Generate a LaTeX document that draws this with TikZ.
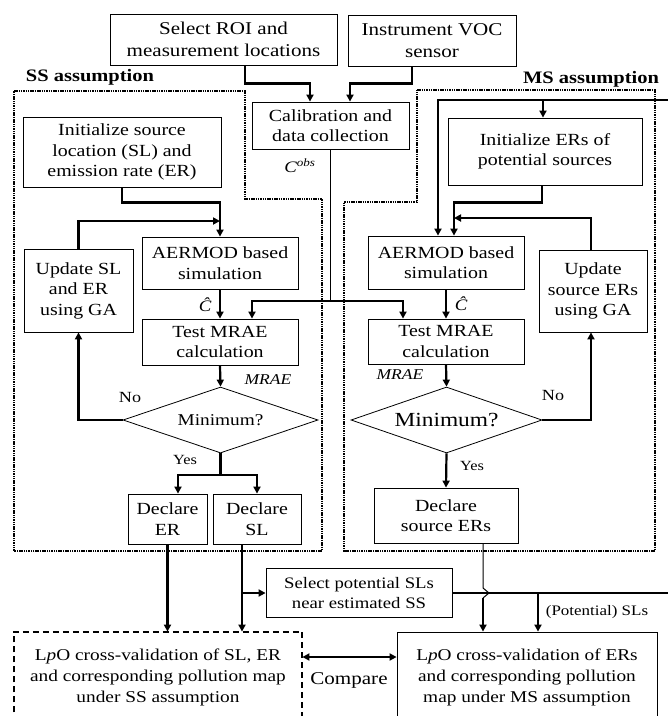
\documentclass[tikz,border=0pt]{standalone}
\usepackage{fontspec}
\setmainfont{Liberation Serif}[FakeStretch=1.17]
\usetikzlibrary{shapes.geometric,arrows.meta,calc}
\begin{document}
\begin{tikzpicture}[x=1pt,y=-1pt,
  box/.style={draw,line width=0.8pt,align=center,inner sep=0pt,font=\fontsize{17}{20.5}\selectfont},
  dia/.style={draw,diamond,aspect=3,line width=0.8pt,inner sep=0pt},
  wh/.style 2 args={minimum width=#1pt,minimum height=#2pt},
  conn/.style={line width=2.2pt,-{Triangle[length=7pt,width=7pt]}},
  line/.style={line width=2.2pt},
  thinline/.style={line width=1pt},
  region/.style={line width=1.3pt,dash pattern=on 1.5pt off 0.8pt},
  lbl/.style={inner sep=0pt},
  mlbl/.style={inner sep=0pt,font=\fontsize{16}{18}\selectfont\itshape},
]
\useasboundingbox (0,0) rectangle (668,716);
\clip (0,0) rectangle (668,716);

% regions
\draw[region] (14,91) -- (245,91) -- (245,199) -- (322,199) -- (322,551) -- (14,551) -- cycle;
\draw[region] (417,90) -- (655,90) -- (655,551) -- (344,551) -- (344,202) -- (417,202) -- cycle;
\node[lbl,font=\fontsize{17.5}{20}\selectfont\bfseries] (ssl) at (90,77) {SS assumption};
\node[lbl,font=\fontsize{17.5}{20}\selectfont\bfseries] (msl) at (591,79) {MS assumption};

% top
\node[box,wh={227}{51},font=\fontsize{18}{22}\selectfont] (roi) at (223.5,39.5) {Select ROI and\\measurement locations};
\node[box,wh={168}{51},font=\fontsize{18}{22}\selectfont] (voc) at (432,40.5) {Instrument VOC\\sensor};
\node[box,wh={157}{47}] (calib) at (330.5,125.5) {Calibration and\\data collection};

% SS
\node[box,wh={198}{70}] (initSL) at (122,152) {Initialize source\\location (SL) and\\emission rate (ER)};
\node[box,wh={156}{52}] (aerSS) at (220,263) {AERMOD based\\simulation};
\node[box,wh={109}{83}] (updSL) at (78.5,290.5) {Update SL\\and ER\\using GA};
\node[box,wh={156}{46}] (testSS) at (220,342) {Test MRAE\\calculation};
\node[dia,wh={195}{66},font=\fontsize{16.5}{20}\selectfont] (diaSS) at (220.5,420) {Minimum?};
\node[box,wh={79}{50}] (declER) at (167.5,519) {Declare\\ER};
\node[box,wh={88}{50}] (declSL) at (257,519) {Declare\\SL};
\node[box,wh={186}{49},font=\fontsize{16}{20}\selectfont] (select) at (359,593) {Select potential SLs\\near estimated SS};
\node[box,wh={288}{90},draw=none,font=\fontsize{16.5}{21}\selectfont] (lpoSS) at (158,677) {L\textit{p}O cross-validation of SL, ER\\and corresponding pollution map\\under SS assumption};
\draw[line width=2pt,dash pattern=on 6pt off 4pt] (lpoSS.south west) -- (lpoSS.north west) -- (lpoSS.north east) -- (lpoSS.south east);

% MS
\node[box,wh={194}{67}] (initER) at (545,151.5) {Initialize ERs of\\potential sources};
\node[box,wh={156}{53}] (aerMS) at (446,262.5) {AERMOD based\\simulation};
\node[box,wh={108}{82}] (updER) at (593,291) {Update\\source ERs\\using GA};
\node[box,wh={156}{45}] (testMS) at (446,341.5) {Test MRAE\\calculation};
\node[dia,wh={191}{66},font=\fontsize{20}{24}\selectfont] (diaMS) at (446.5,420) {Minimum?};
\node[box,wh={144}{55}] (declMS) at (446,515.5) {Declare\\source ERs};
\node[box,wh={260}{90},font=\fontsize{16.5}{21}\selectfont] (lpoMS) at (527,677) {L\textit{p}O cross-validation of ERs\\and corresponding pollution\\map under MS assumption};

% top connectors
\draw[conn] ([xshift=21.5pt]roi.south) -- ++(0,18) -| ([xshift=-20.5pt]calib.north);
\draw[conn] ([xshift=-20pt]voc.south) -- ++(0,17) -| ([xshift=19.5pt]calib.north);
\coordinate (cj) at (330,301);
\draw[thinline] ([xshift=-0.5pt]calib.south) -- (cj);
\draw[conn] (cj) -| ([xshift=32pt]testSS.north);
\draw[conn] (cj) -| ([xshift=-43pt]testMS.north);
\node[mlbl] (cobs) at (300,166) {C\textsuperscript{obs}};

% SS connectors
\draw[conn] (initSL.south) -- ++(0,15) -| (aerSS.north);
\draw[conn] (updSL.north) |- (220,221);
\draw[conn] (aerSS.south) -- (testSS.north);
\node[mlbl] (chat1) at (205,305) {Ĉ};
\draw[conn] (testSS.south) -- (diaSS.north);
\node[mlbl,font=\fontsize{15}{18}\selectfont\itshape] (mrae1) at (268,380) {MRAE};
\draw[conn] (diaSS.west) -| (updSL.south);
\node[lbl,font=\fontsize{15.5}{18}\selectfont] (no1) at (130,397) {No};
\coordinate (yj) at (220.5,475);
\draw[line] (diaSS.south) -- (yj);
\draw[conn] (yj) -| ([xshift=10.5pt]declER.north);
\draw[conn] (yj) -| (declSL.north);
\node[lbl,font=\fontsize{14}{18}\selectfont] (yes1) at (185,460) {Yes};
\draw[conn] (declER.south) -- (declER.south |- lpoSS.north);
\coordinate (sl1) at ([xshift=-15pt]declSL.south);
\draw[conn] (sl1) -- (sl1 |- lpoSS.north);
\draw[conn] (sl1 |- select.west) -- (select.west);

% MS connectors
\coordinate (re) at (668,100);
\draw[conn] (re) -| ([xshift=-8pt]aerMS.north);
\draw[conn] ([xshift=-2pt]initER.north |- re) -- ([xshift=-2pt]initER.north);
\draw[conn] ([xshift=-3pt]initER.south) -- ++(0,17) -| ([xshift=8pt]aerMS.north);
\draw[conn] ([xshift=-2pt]updER.north) |- (454,218);
\draw[conn] (aerMS.south) -- (testMS.north);
\node[mlbl] (chat2) at (461,304) {Ĉ};
\draw[conn] (testMS.south) -- (diaMS.north);
\node[mlbl,font=\fontsize{15}{18}\selectfont\itshape] (mrae2) at (400,375) {MRAE};
\draw[conn] (diaMS.east) -| ([xshift=-2pt]updER.south);
\node[lbl,font=\fontsize{15.5}{18}\selectfont] (no2) at (553,395) {No};
\draw[conn] (diaMS.south) -- (declMS.north);
\node[lbl,font=\fontsize{14}{18}\selectfont] (yes2) at (472,466) {Yes};

% bottom connectors
\coordinate (dm) at ([xshift=37pt]declMS.south);
\coordinate (j1) at (dm |- select.east);
\draw[thinline] (dm) -- ($(j1)+(0,-5)$) -- ($(j1)+(6,0)$) -- ($(j1)+(0,5)$);
\draw[conn] ($(j1)+(0,5)$) -- (dm |- lpoMS.north);
\coordinate (rb) at (668,593);
\draw[line] (select.east) -- (rb);
\coordinate (pb) at (538,593);
\draw[conn] (pb) -- (pb |- lpoMS.north);
\node[lbl,font=\fontsize{14.5}{18}\selectfont] (pot) at (597,612) {(Potential) SLs};
\coordinate (cmp) at (0,657);
\draw[line width=2.2pt,{Triangle[length=7pt,width=7pt]}-{Triangle[length=7pt,width=7pt]}] (lpoSS.east |- cmp) -- (lpoMS.west |- cmp);
\node[lbl,font=\fontsize{18}{20}\selectfont] (cmpl) at (349,680) {Compare};
\end{tikzpicture}
\end{document}
